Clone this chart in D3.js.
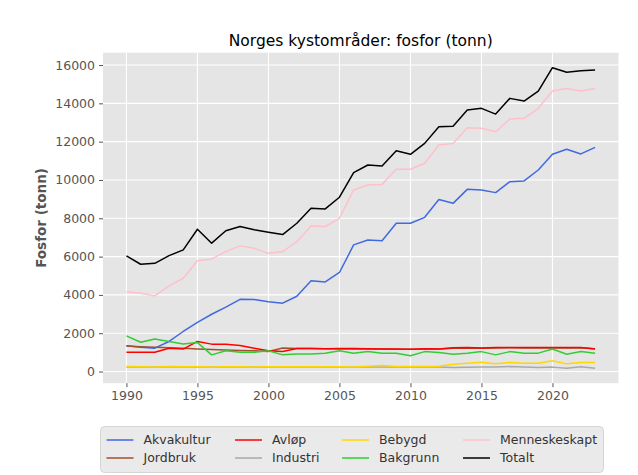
<!DOCTYPE html>
<html>
<head>
<meta charset="utf-8">
<script src="https://cdn.jsdelivr.net/npm/d3@7"></script>
<style>
  body { margin: 0; background: #fff; }
  svg { display: block; font-family: "DejaVu Sans", sans-serif; }
</style>
</head>
<body>
<svg id="chart" width="638" height="475"></svg>
<script>
// years on the x axis
const years = d3.range(1990, 2024);

// phosphorus per source (tonn)
const akvakultur = [1340, 1270, 1220, 1570, 2090, 2570, 2990, 3360, 3770, 3760,
  3640, 3570, 3930, 4740, 4680, 5170, 6610, 6870, 6830, 7740,
  7740, 8050, 8980, 8780, 9510, 9480, 9340, 9910, 9950, 10520,
  11340, 11600, 11360, 11700];
const jordbruk = [1330, 1300, 1270, 1240, 1210, 1180, 1150, 1120, 1100, 1080,
  1050, 1230, 1200, 1200, 1190, 1180, 1180, 1170, 1170, 1160,
  1160, 1170, 1180, 1220, 1230, 1220, 1230, 1240, 1230, 1230,
  1240, 1230, 1240, 1190];
const avlop = [1010, 1010, 1010, 1220, 1170, 1570, 1430, 1430, 1360, 1220,
  1080, 1040, 1200, 1200, 1190, 1200, 1200, 1190, 1180, 1180,
  1160, 1190, 1180, 1240, 1250, 1230, 1260, 1260, 1260, 1250,
  1250, 1250, 1250, 1180];
const industri = [240, 240, 230, 240, 240, 240, 230, 240, 240, 230,
  240, 240, 240, 240, 230, 230, 230, 230, 240, 230,
  230, 230, 230, 210, 220, 230, 230, 260, 230, 210,
  230, 175, 245, 175];
const bebygd = [260, 250, 240, 260, 250, 250, 240, 250, 250, 240,
  250, 250, 250, 250, 250, 250, 240, 270, 310, 260,
  260, 260, 270, 380, 430, 490, 400, 470, 430, 430,
  560, 400, 470, 470];
const bakgrunn = [1860, 1530, 1700, 1570, 1440, 1510, 870, 1080, 1010, 1010,
  1080, 870, 920, 920, 960, 1080, 960, 1040, 960, 960,
  820, 1040, 990, 900, 960, 1040, 870, 1040, 960, 960,
  1180, 900, 1040, 960];
const menneskeskapt = [4170, 4090, 3950, 4470, 4870, 5780, 5880, 6260, 6560, 6430,
  6170, 6260, 6780, 7600, 7570, 8000, 9480, 9740, 9770, 10560,
  10560, 10870, 11830, 11910, 12730, 12700, 12520, 13180, 13220, 13740,
  14640, 14780, 14640, 14780];
const totalt = [6040, 5600, 5650, 6050, 6350, 7430, 6700, 7350, 7570, 7400,
  7270, 7150, 7740, 8520, 8490, 9100, 10380, 10780, 10730, 11530,
  11340, 11910, 12780, 12800, 13650, 13740, 13440, 14260, 14120, 14640,
  15860, 15620, 15700, 15740];

// series in plotting order (legend is filled column by column)
const seriesNames = ["Akvakultur", "Jordbruk", "Avløp", "Industri",
  "Bebygd", "Bakgrunn", "Menneskeskapt", "Totalt"];
const seriesValues = [akvakultur, jordbruk, avlop, industri,
  bebygd, bakgrunn, menneskeskapt, totalt];
const seriesColors = ["royalblue", "sienna", "red", "darkgrey",
  "gold", "limegreen", "pink", "black"];

const xTicks = [1990, 1995, 2000, 2005, 2010, 2015, 2020];
const yTicks = [0, 2000, 4000, 6000, 8000, 10000, 12000, 14000, 16000];

const titleText = "Norges kystområder: fosfor (tonn)";
const yLabelText = "Fosfor (tonn)";

const svg = d3.select("#chart");
const plot = {left: 103, right: 618.5, top: 52.7, bottom: 383.2};

// matplotlib style 5% padding on both axes
function padded(extent) {
  const pad = (extent[1] - extent[0]) * 0.05;
  return [extent[0] - pad, extent[1] + pad];
}

const x = d3.scaleLinear()
  .domain(padded(d3.extent(years)))
  .range([plot.left, plot.right]);
const y = d3.scaleLinear()
  .domain(padded(d3.extent(seriesValues.flat())))
  .range([plot.bottom, plot.top]);

// plot background
svg.append("rect")
  .attr("x", plot.left).attr("y", plot.top)
  .attr("width", plot.right - plot.left)
  .attr("height", plot.bottom - plot.top)
  .attr("fill", "#e5e5e5");

// white grid lines
svg.append("g").selectAll("line").data(xTicks).join("line")
  .attr("x1", d => x(d)).attr("x2", d => x(d))
  .attr("y1", plot.top).attr("y2", plot.bottom)
  .attr("stroke", "#fff").attr("stroke-width", 1.1);
svg.append("g").selectAll("line").data(yTicks).join("line")
  .attr("x1", plot.left).attr("x2", plot.right)
  .attr("y1", d => y(d)).attr("y2", d => y(d))
  .attr("stroke", "#fff").attr("stroke-width", 1.1);

// axes
const xAxis = svg.append("g")
  .attr("transform", `translate(0,${plot.bottom})`)
  .call(d3.axisBottom(x).tickValues(xTicks).tickFormat(d3.format("d"))
    .tickSize(4).tickPadding(4));
const yAxis = svg.append("g")
  .attr("transform", `translate(${plot.left},0)`)
  .call(d3.axisLeft(y).tickValues(yTicks).tickFormat(d3.format("d"))
    .tickSize(4).tickPadding(4));
[xAxis, yAxis].forEach(ax => {
  ax.select(".domain").remove();
  ax.selectAll("line").attr("stroke", "#555");
  ax.selectAll("text").attr("fill", "#555")
    .style("font-size", "12.5px").style("font-family", "DejaVu Sans");
});

// lines
const lineFunc = d3.line()
  .x((d, i) => x(years[i]))
  .y(d => y(d));
svg.append("g").selectAll("path").data(seriesValues).join("path")
  .attr("d", lineFunc)
  .attr("fill", "none")
  .attr("stroke", (d, i) => seriesColors[i])
  .attr("stroke-width", 1.5)
  .attr("stroke-linejoin", "round");

// title and axis label
svg.append("text")
  .attr("x", (plot.left + plot.right) / 2).attr("y", 46)
  .attr("text-anchor", "middle")
  .style("font-size", "15.5px").attr("fill", "#000")
  .text(titleText);
svg.append("text")
  .attr("transform", `translate(46,${(plot.top + plot.bottom) / 2}) rotate(-90)`)
  .attr("text-anchor", "middle")
  .style("font-size", "13.5px").style("font-weight", "bold").attr("fill", "#555")
  .text(yLabelText);

// legend, 4 columns filled column-wise
const legend = svg.append("g");
legend.append("rect")
  .attr("x", 100.5).attr("y", 426.5)
  .attr("width", 503).attr("height", 46)
  .attr("rx", 4)
  .attr("fill", "#eaeaea")
  .attr("stroke", "#d6d6d6");
const colX = [106.5, 235, 342, 463];
const rowY = [440, 458];
const items = legend.selectAll("g").data(seriesNames).join("g")
  .attr("transform", (d, i) =>
    `translate(${colX[Math.floor(i / 2)]},${rowY[i % 2]})`);
items.append("line")
  .attr("x1", 0).attr("x2", 27)
  .attr("stroke", (d, i) => seriesColors[i])
  .attr("stroke-width", 1.5);
items.append("text")
  .attr("x", 37).attr("dy", "0.35em")
  .style("font-size", "12.5px").attr("fill", "#333")
  .text(d => d);
</script>
</body>
</html>
